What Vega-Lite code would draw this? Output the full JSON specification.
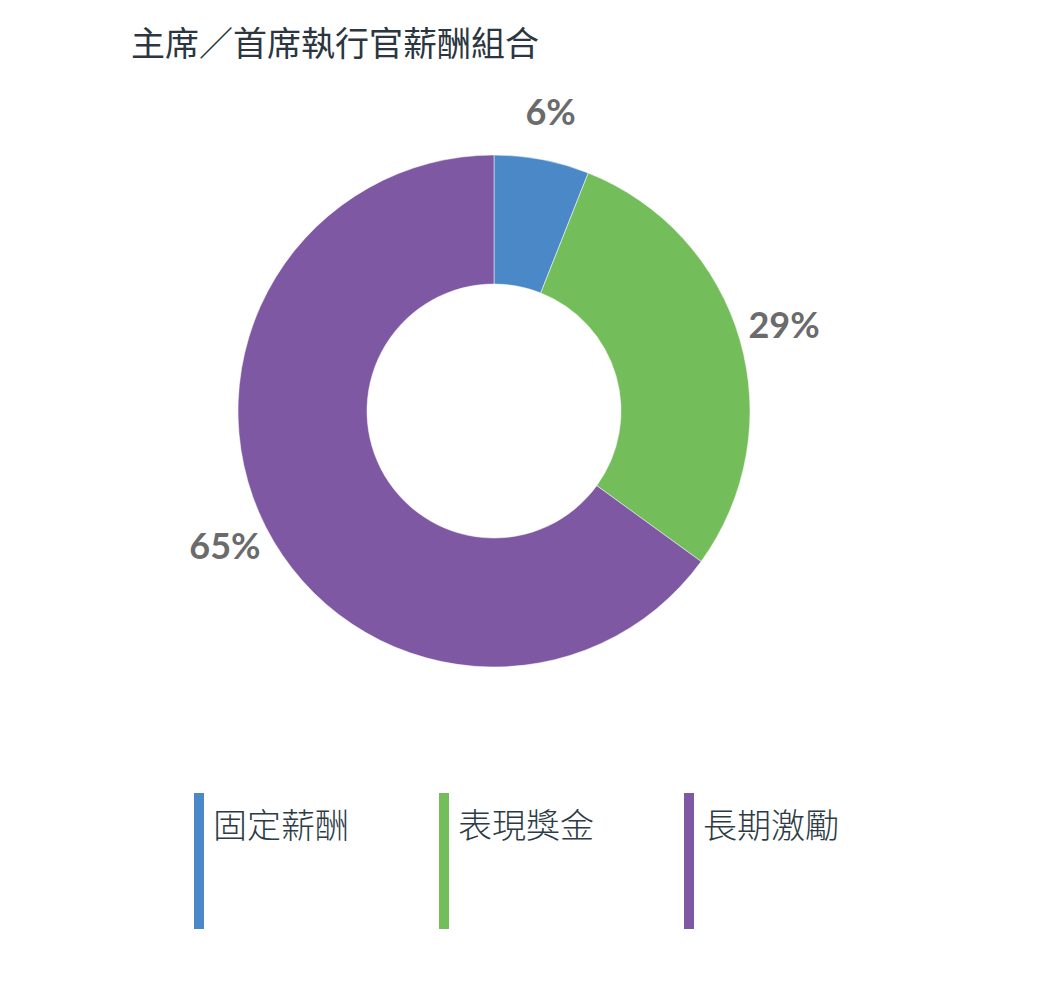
{
  "$schema": "https://vega.github.io/schema/vega-lite/v6.json",
  "autosize": {"type": "none"},
  "width": 988,
  "height": 622,
  "padding": {"left": 0, "top": 100, "right": 56, "bottom": 262},
  "background": "#ffffff",
  "title": {
    "text": "主席／首席執行官薪酬組合",
    "anchor": "start",
    "frame": "group",
    "dx": 131,
    "offset": 33,
    "font": "Noto Sans CJK TC",
    "fontSize": 34,
    "fontWeight": "normal",
    "color": "#2b3640"
  },
  "data": {
    "values": [
      {"類別": "固定薪酬", "百分比": 6, "標籤": "6%", "seq": 1},
      {"類別": "表現獎金", "百分比": 29, "標籤": "29%", "seq": 2},
      {"類別": "長期激勵", "百分比": 65, "標籤": "65%", "seq": 3}
    ]
  },
  "encoding": {
    "theta": {"field": "百分比", "type": "quantitative", "stack": true},
    "order": {"field": "seq", "type": "quantitative"}
  },
  "layer": [
    {
      "mark": {"type": "arc", "innerRadius": 127, "outerRadius": 256, "stroke": "#ffffff", "strokeWidth": 0.5},
      "encoding": {
        "color": {
          "field": "類別",
          "type": "nominal",
          "sort": ["固定薪酬", "表現獎金", "長期激勵"],
          "scale": {
            "domain": ["固定薪酬", "表現獎金", "長期激勵"],
            "range": ["#4a88c8", "#73be5b", "#7e58a2"]
          },
          "legend": {
            "orient": "none",
            "legendX": 182,
            "legendY": 711,
            "direction": "horizontal",
            "columns": 3,
            "title": null,
            "padding": 0,
            "symbolType": "M-0.5,-3.5H0.5V10.1H-0.5Z",
            "symbolSize": 400,
            "symbolStrokeWidth": 0,
            "symbolOpacity": 1,
            "labelFont": "Noto Sans CJK TC",
            "labelFontSize": 34,
            "labelFontWeight": 300,
            "labelColor": "#2d3b45",
            "labelOffset": -3,
            "labelLimit": 300,
            "columnPadding": 78
          }
        },
        "tooltip": [
          {"field": "類別", "type": "nominal"},
          {"field": "標籤", "type": "nominal"}
        ]
      }
    },
    {
      "mark": {"type": "text", "radius": 302, "font": "Lato", "fontSize": 36, "fontWeight": "bold", "color": "#6b6b6b"},
      "encoding": {
        "text": {"field": "標籤", "type": "nominal"}
      }
    }
  ]
}
